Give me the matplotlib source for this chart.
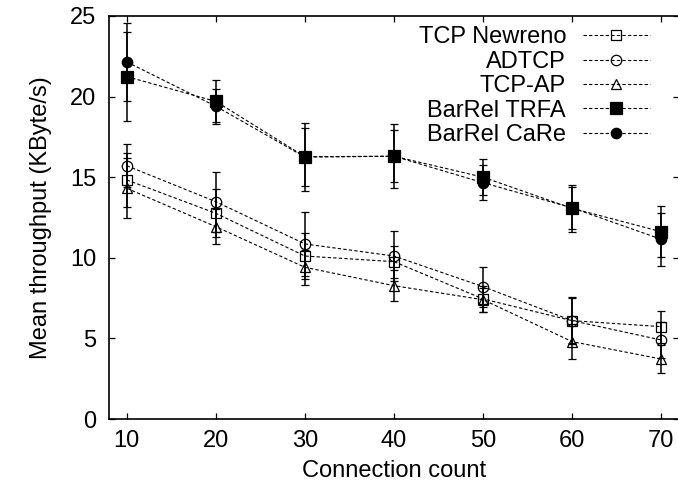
import numpy as np
import matplotlib
matplotlib.use("Agg")
import matplotlib.pyplot as plt

plt.rcParams['font.family'] = ['Liberation Sans', 'DejaVu Sans']

# nombre de connexions
conns = [10, 20, 30, 40, 50, 60, 70]

newreno = [14.83, 12.76, 10.11, 9.76, 7.45, 6.10, 5.73]
newreno_err = [1.70, 1.50, 1.40, 1.00, 0.80, 1.40, 1.00]
adtcp = [15.71, 13.48, 10.86, 10.11, 8.21, 6.10, 4.90]
adtcp_err = [1.33, 1.86, 1.96, 1.57, 1.24, 1.45, 1.10]
tcpap = [14.31, 11.93, 9.41, 8.27, 7.40, 4.80, 3.72]
tcpap_err = [1.86, 1.10, 1.10, 0.95, 0.75, 1.10, 0.85]
trfa = [21.24, 19.70, 16.27, 16.30, 15.00, 13.07, 11.62]
trfa_err = [2.76, 1.30, 2.10, 2.00, 1.10, 1.45, 1.60]
care = [22.15, 19.40, 16.25, 16.30, 14.66, 13.10, 11.15]
care_err = [2.40, 1.10, 1.80, 1.60, 1.10, 1.30, 1.66]

labels = ['TCP Newreno', 'ADTCP', 'TCP-AP', 'BarRel TRFA', 'BarRel CaRe']
series = [newreno, adtcp, tcpap, trfa, care]
errors = [newreno_err, adtcp_err, tcpap_err, trfa_err, care_err]
markers = ['s', 'o', '^', 's', 'o']
filled = [False, False, False, True, True]
msizes = [7.5, 7.5, 7.5, 8, 7.5]

W, H = 678, 493
fig = plt.figure(figsize=(W / 100, H / 100), dpi=100)
ax = fig.add_axes([109 / W, 1 - 419 / H, (679 - 109) / W, (419 - 16) / H])

for y, e, m, f, ms, lbl in zip(series, errors, markers, filled, msizes, labels):
    ax.errorbar(conns, y, yerr=e, fmt='none', ecolor='black',
                elinewidth=1.1, capsize=3, capthick=0.9, zorder=3)
    ax.plot(conns, y, color='black', lw=0.8, ls=(0, (3, 2)),
            marker=m, ms=ms, mec='black', mew=0.9,
            mfc='black' if f else 'none', label=lbl, zorder=4)

ax.set_xlim(8, 72)
ax.set_ylim(0, 25)
ax.set_xticks(conns)
ax.set_yticks([0, 5, 10, 15, 20, 25])
ax.tick_params(direction='in', top=True, right=True, length=4.5, width=0.9,
               labelsize=17)
ax.tick_params(axis='x', pad=8)
ax.tick_params(axis='y', pad=9)
for s in ax.spines.values():
    s.set_linewidth(1.2)

ax.set_xlabel('Connection count', fontsize=17, labelpad=6)
ax.set_ylabel('Mean throughput (KByte/s)', fontsize=17, labelpad=13)

# légende à la gnuplot : texte à droite-aligné, échantillon à droite
leg = ax.legend(loc='upper right', bbox_to_anchor=(0.953, 0.98),
                frameon=False, markerfirst=False, numpoints=1, fontsize=17,
                handlelength=2.85, handletextpad=0.7, labelspacing=0.1,
                borderaxespad=0, borderpad=0.1)

fig.savefig('out.png', dpi=100)
